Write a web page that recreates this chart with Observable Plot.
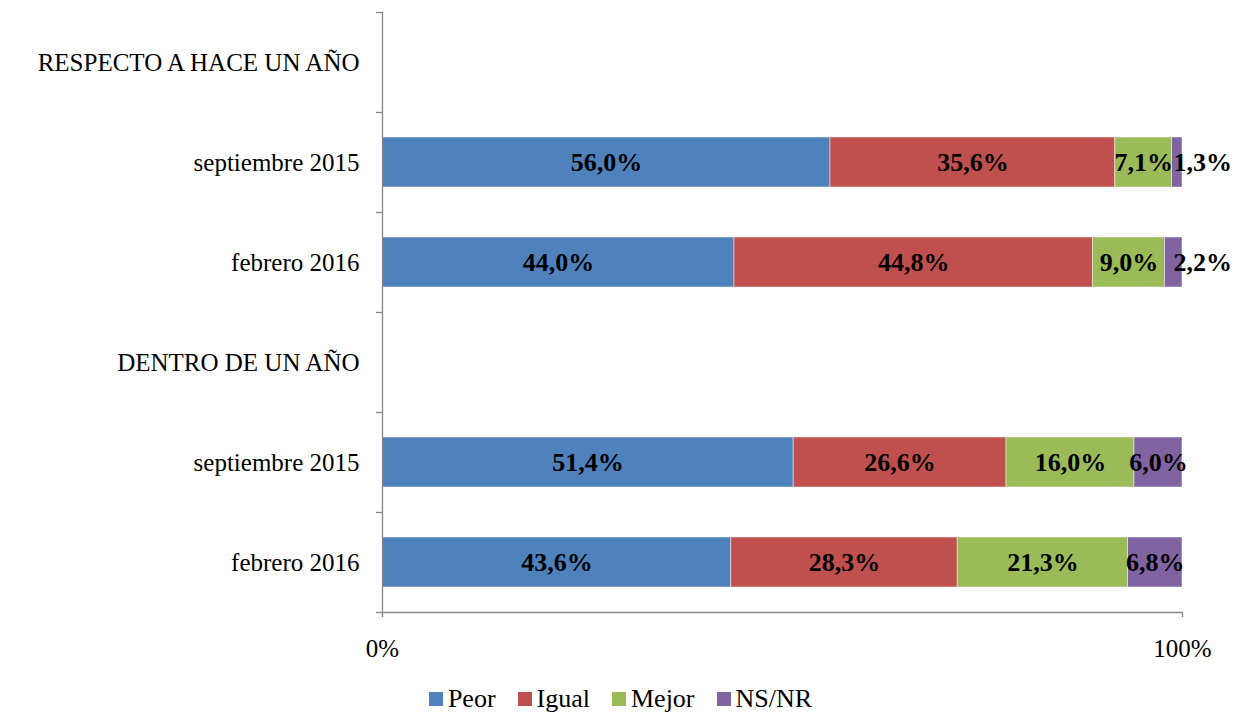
<!DOCTYPE html>
<html>
<head>
<meta charset="utf-8">
<script src="https://cdn.jsdelivr.net/npm/d3@7"></script>
<script src="https://cdn.jsdelivr.net/npm/@observablehq/plot@0.6"></script>
<style>
  html, body { margin: 0; padding: 0; background: #fff; }
  #chart { width: 1241px; }
  #legend { width: 1241px; height: 28px; display: flex; justify-content: center; align-items: center;
            font-family: "Liberation Serif", "Times New Roman", serif; font-size: 26px; color: #000; gap: 0; }
  #legend .item { display: flex; align-items: center; margin: 0 11px; }
  #legend .sw { width: 14px; height: 14px; margin-right: 5px; }
</style>
</head>
<body>
<div id="chart"></div>
<div id="legend"></div>
<script>
const categories = ["RESPECTO A HACE UN AÑO", "septiembre 2015", "febrero 2016", "DENTRO DE UN AÑO", "septiembre 2015", "febrero 2016"];
const peor  = [null, 56.0, 44.0, null, 51.4, 43.6];
const igual = [null, 35.6, 44.8, null, 26.6, 28.3];
const mejor = [null, 7.1, 9.0, null, 16.0, 21.3];
const nsnr  = [null, 1.3, 2.2, null, 6.0, 6.8];
const seriesNames = ["Peor", "Igual", "Mejor", "NS/NR"];
const seriesColors = ["#4F81BD", "#C0504D", "#9BBB59", "#8064A2"];
const xTicks = [0, 100];

const seriesValues = [peor, igual, mejor, nsnr];
const segs = [];
categories.forEach((c, i) => {
  let acc = 0;
  seriesValues.forEach((vals, s) => {
    const v = vals[i];
    if (v == null) return;
    segs.push({row: i, series: seriesNames[s], value: v, x1: acc, x2: acc + v});
    acc += v;
  });
});
const fmt = v => v.toFixed(1).replace(".", ",") + "%";
const gray = "#868686";
const rowIdx = categories.map((_, i) => i);
const bounds = d3.range(categories.length + 1);

const chart = Plot.plot({
  width: 1241,
  height: 685,
  marginLeft: 382,
  marginRight: 59,
  marginTop: 12,
  marginBottom: 73,
  style: {fontFamily: "'Liberation Serif', 'Times New Roman', serif", fontSize: "25px", color: "#000", background: "#fff"},
  x: {domain: [0, 100], axis: null},
  y: {domain: [0, categories.length], reverse: true, axis: null},
  color: {domain: seriesNames, range: seriesColors},
  marks: [
    Plot.rectX(segs, {
      x1: "x1", x2: "x2",
      y1: d => d.row + 0.25, y2: d => d.row + 0.75,
      fill: "series", stroke: "#ffffff", strokeWidth: 0.8, strokeOpacity: 0.6
    }),
    Plot.text(segs.filter(d => d.value >= 3), {
      x: d => (d.x1 + d.x2) / 2, y: d => d.row + 0.5,
      text: d => fmt(d.value), fontWeight: "bold", fontSize: 26, fill: "#000"
    }),
    Plot.text(segs.filter(d => d.value < 3), {
      x: "x2", y: d => d.row + 0.5, textAnchor: "start", dx: -9,
      text: d => fmt(d.value), fontWeight: "bold", fontSize: 26, fill: "#000"
    }),
    Plot.ruleX([0], {stroke: gray, strokeWidth: 1.3}),
    Plot.ruleY([categories.length], {stroke: gray, strokeWidth: 1.3}),
    Plot.axisY({ticks: bounds, tickSize: 6, tickFormat: () => "", stroke: gray, strokeWidth: 1.3}),
    Plot.axisY({ticks: rowIdx.map(i => i + 0.5), tickSize: 0, tickPadding: 23,
      tickFormat: (d) => categories[Math.round(d - 0.5)], fill: "#000", fontSize: 25}),
    Plot.axisX({ticks: xTicks, tickSize: 5, tickPadding: 22, tickFormat: d => d + "%",
      stroke: gray, strokeWidth: 1.3, fill: "#000", fontSize: 25})
  ]
});
document.getElementById("chart").appendChild(chart);

const legend = document.getElementById("legend");
seriesNames.forEach((n, i) => {
  const it = document.createElement("div");
  it.className = "item";
  const sw = document.createElement("div");
  sw.className = "sw";
  sw.style.background = seriesColors[i];
  const lb = document.createElement("span");
  lb.textContent = n;
  it.appendChild(sw); it.appendChild(lb);
  legend.appendChild(it);
});
</script>
</body>
</html>
